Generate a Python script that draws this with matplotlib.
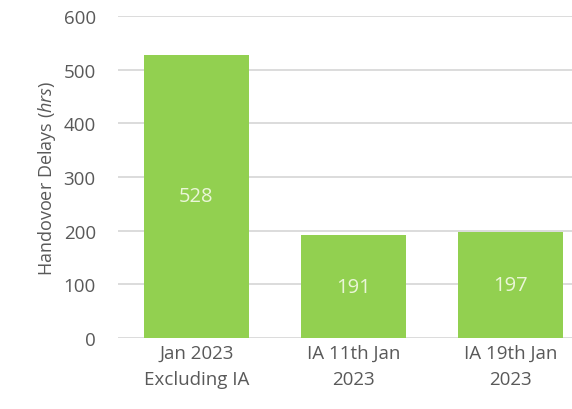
import matplotlib.pyplot as plt

categories = ['Jan 2023\nExcluding IA', 'IA 11th Jan\n2023', 'IA 19th Jan\n2023']
delays = [528, 191, 197]
yticks = [0, 100, 200, 300, 400, 500, 600]

plt.rcParams['font.family'] = ['Open Sans', 'DejaVu Sans']
plt.rcParams['mathtext.fontset'] = 'custom'
plt.rcParams['mathtext.rm'] = 'Open Sans'
plt.rcParams['mathtext.it'] = 'Open Sans:italic'

fig = plt.figure(figsize=(5.72, 4.10), dpi=100)
ax = fig.add_axes([118 / 572, 71 / 410, 1 - 118 / 572, 322 / 410])

x = list(range(len(categories)))
bars = ax.bar(x, delays, width=0.67, color='#92D050', zorder=3)
for b, v in zip(bars, delays):
    ax.text(b.get_x() + b.get_width() / 2, v / 2, str(v), ha='center', va='center',
            color='#EAF6D8', fontsize=14.5, zorder=4)

ax.set_xlim(-0.5, 2.392)
ax.set_ylim(0, 600)
ax.set_yticks(yticks)
ax.set_xticks(x)
ax.set_xticklabels(categories)
ax.grid(axis='y', color='#D9D9D9', linewidth=1.3, zorder=0)
for s in ax.spines.values():
    s.set_visible(False)
ax.tick_params(length=0, colors='#595959', labelsize=13.5)
ax.tick_params(axis='y', pad=16)
ax.tick_params(axis='x', pad=4)
for lbl in ax.get_xticklabels():
    lbl.set_linespacing(1.6)
ax.set_ylabel('Handovoer Delays ($\\it{hrs}$)', color='#595959', fontsize=13, labelpad=4)

fig.savefig('out.png', dpi=100)
